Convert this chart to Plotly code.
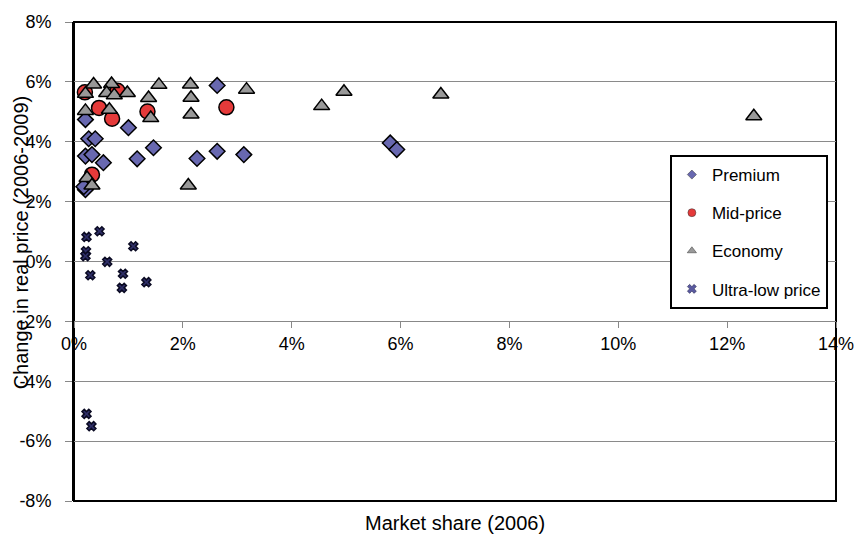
import plotly.graph_objects as go

# ---- data (x = market share 2006 in %, y = change in real price 2006-2009 in %) ----
premium_x = [0.21, 0.27, 0.39, 0.21, 0.33, 0.54, 0.21, 0.18, 1.00, 1.16, 1.46, 2.26, 2.63, 3.12, 2.63, 5.81, 5.93]
premium_y = [4.74, 4.10, 4.10, 3.52, 3.57, 3.30, 2.40, 2.50, 4.47, 3.43, 3.80, 3.44, 3.68, 3.57, 5.88, 3.96, 3.74]

mid_x = [0.20, 0.80, 0.46, 0.70, 1.35, 2.80, 0.33]
mid_y = [5.65, 5.70, 5.13, 4.77, 5.01, 5.15, 2.90]

economy_x = [0.36, 0.69, 0.21, 0.60, 0.74, 0.98, 1.37, 1.56, 2.14, 2.15, 2.15, 3.17,
             0.21, 0.65, 1.41, 0.24, 0.33, 2.10, 4.55, 4.96, 6.74, 12.49]
economy_y = [5.91, 5.93, 5.60, 5.63, 5.55, 5.63, 5.46, 5.90, 5.91, 5.47, 4.91, 5.74,
             5.03, 5.07, 4.79, 2.79, 2.54, 2.54, 5.19, 5.67, 5.58, 4.85]

ultra_x = [0.23, 0.47, 0.22, 0.21, 1.09, 0.61, 0.30, 0.90, 0.88, 1.33, 0.23, 0.32]
ultra_y = [0.82, 1.01, 0.34, 0.18, 0.51, -0.01, -0.46, -0.41, -0.88, -0.69, -5.09, -5.50]

series_names = ["Premium", "Mid-price", "Economy", "Ultra-low price"]

x_ticks = [0, 2, 4, 6, 8, 10, 12, 14]
y_ticks = [-8, -6, -4, -2, 0, 2, 4, 6, 8]

FONT = "Liberation Sans, Arial, sans-serif"

styles = [
    dict(symbol="diamond", size=12, color="#6868B0", line=dict(color="#000000", width=1.5)),
    dict(symbol="circle", size=15, color="#E53A3A", line=dict(color="#000000", width=1.5)),
    dict(symbol="triangle-up", size=14, color="#999999", line=dict(color="#000000", width=1.5)),
    dict(symbol="x", size=8, color="#2E2E66", line=dict(color="#0A0A22", width=1.5)),
]
legend_styles = [
    dict(symbol="diamond", size=7, color="#6868B0", line=dict(color="#333333", width=0.5)),
    dict(symbol="circle", size=8, color="#E53A3A", line=dict(color="#333333", width=0.5)),
    dict(symbol="triangle-up", size=8, color="#999999", line=dict(color="#333333", width=0.5)),
    dict(symbol="x", size=8, color="#5A5AA0", line=dict(color="#222244", width=0.5)),
]

data = [(premium_x, premium_y), (mid_x, mid_y), (economy_x, economy_y), (ultra_x, ultra_y)]

fig = go.Figure()
for i, ((xs, ys), name) in enumerate(zip(data, series_names)):
    fig.add_trace(go.Scatter(
        x=[v / 100 for v in xs], y=[v / 100 for v in ys], mode="markers",
        name=name, marker=styles[i], showlegend=False, legendgroup=name,
    ))
for i, name in enumerate(series_names):
    fig.add_trace(go.Scatter(
        x=[None], y=[None], mode="markers", name=name,
        marker=legend_styles[i], showlegend=True, legendgroup=name,
    ))

fig.update_layout(
    width=858, height=535,
    margin=dict(l=73.5, r=21.5, t=22, b=34, autoexpand=False),
    paper_bgcolor="white", plot_bgcolor="white",
    font=dict(family=FONT, size=17, color="black"),
    legend=dict(
        x=0.782, y=0.7223, xanchor="left", yanchor="top",
        bgcolor="white", bordercolor="black", borderwidth=2,
        font=dict(size=17), tracegroupgap=13, itemsizing="trace",
    ),
    xaxis=dict(
        range=[0, 0.14], tickvals=[v / 100 for v in x_ticks],
        ticktext=[f"{v}%" for v in x_ticks],
        showgrid=False, zeroline=False,
        showline=True, linecolor="#888888", linewidth=1,
        ticks="outside", ticklen=6, tickcolor="#888888",
        anchor="free", position=0.375, automargin=False,
        tickfont=dict(size=18),
    ),
    yaxis=dict(
        range=[-0.08, 0.08], tickvals=[v / 100 for v in y_ticks],
        ticktext=[f"{v}%" for v in y_ticks],
        showgrid=True, gridcolor="#8a8a8a", gridwidth=1, zeroline=False,
        showline=True, linecolor="black", linewidth=2,
        ticks="outside", ticklen=7, tickcolor="#888888",
        ticklabelstandoff=10, automargin=False,
        tickfont=dict(size=18),
    ),
    shapes=[dict(type="rect", xref="paper", yref="paper", x0=0, x1=1, y0=0, y1=1,
                 line=dict(color="black", width=2), layer="below")],
    annotations=[
        dict(text="Market share (2006)", xref="paper", yref="paper", x=0.5, y=0,
             yshift=-22, xanchor="center", yanchor="middle", showarrow=False,
             font=dict(size=20)),
        dict(text="Change in real price (2006-2009)", xref="paper", yref="paper",
             x=0, xshift=-53, y=0.54, xanchor="center", yanchor="middle",
             textangle=-90, showarrow=False, font=dict(size=20)),
    ],
)

fig.write_html(
    "out.html",
    config={"displayModeBar": False},
    post_script="document.body.style.margin='0';document.body.style.overflow='hidden';",
)
